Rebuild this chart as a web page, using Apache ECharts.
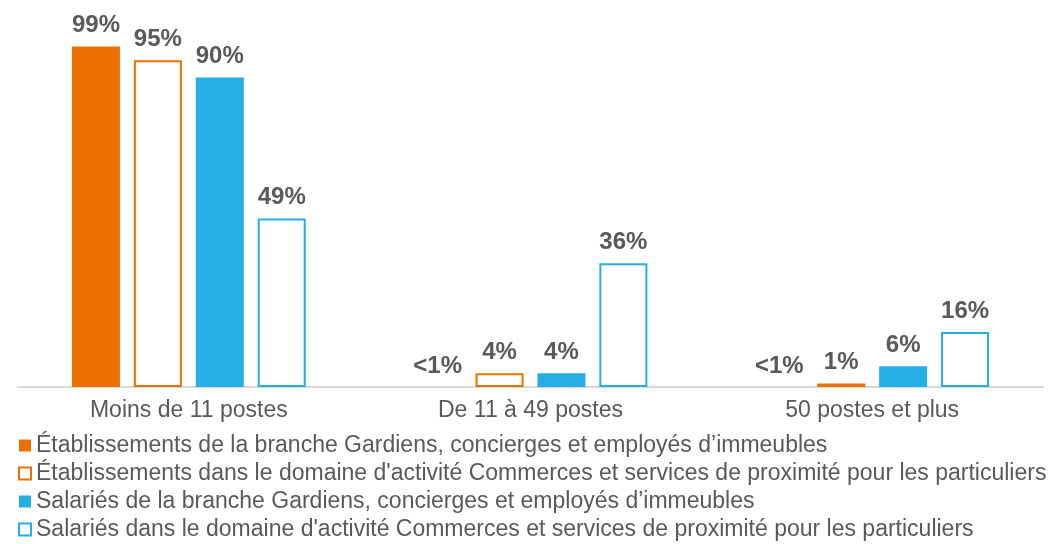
<!DOCTYPE html>
<html>
<head>
<meta charset="utf-8">
<script src="https://cdn.jsdelivr.net/npm/echarts@6/dist/echarts.min.js"></script>
<style>
html,body{margin:0;padding:0;background:#fff;}
#chart{width:1055px;height:544px;}
</style>
</head>
<body>
<div id="chart"></div>
<script>
var categories = ['Moins de 11 postes', 'De 11 à 49 postes', '50 postes et plus'];
var seriesNames = [
  'Établissements de la branche Gardiens, concierges et employés d’immeubles',
  "Établissements dans le domaine d'activité Commerces et services de proximité pour les particuliers",
  'Salariés de la branche Gardiens, concierges et employés d’immeubles',
  "Salariés dans le domaine d'activité Commerces et services de proximité pour les particuliers"
];
var etabGardiens = [99, 0, 0];
var etabCommerces = [95, 4, 1];
var salGardiens = [90, 4, 6];
var salCommerces = [49, 36, 16];
var labelsEtabGardiens = ['99%', '<1%', '<1%'];
var labelsEtabCommerces = ['95%', '4%', '1%'];
var labelsSalGardiens = ['90%', '4%', '6%'];
var labelsSalCommerces = ['49%', '36%', '16%'];

var ORANGE = '#EC7000';
var BLUE = '#25AEE3';
var FONT = 'Liberation Sans, Arial, sans-serif';

function mkSeries(name, data, labels, color, hollow) {
  return {
    name: name,
    type: 'bar',
    data: data,
    barWidth: 48,
    barGap: '29%',
    itemStyle: hollow ? { color: '#ffffff', borderColor: color, borderWidth: 2 } : { color: color },
    label: {
      show: true,
      position: 'top',
      distance: 9,
      color: '#595959',
      fontWeight: 'bold',
      fontSize: 24,
      fontFamily: FONT,
      formatter: function (p) { return labels[p.dataIndex]; }
    }
  };
}

var chart = echarts.init(document.getElementById('chart'));
chart.setOption({
  animation: false,
  backgroundColor: '#ffffff',
  grid: { left: 18, right: 12, top: 43, bottom: 157, containLabel: false },
  xAxis: {
    type: 'category',
    data: categories,
    axisLine: { lineStyle: { color: '#D9D9D9', width: 2 } },
    axisTick: { show: false },
    axisLabel: {
      color: '#595959',
      fontSize: 23,
      margin: 12,
      fontFamily: FONT
    }
  },
  yAxis: {
    type: 'value',
    min: 0,
    max: 100,
    show: false,
    splitLine: { show: false }
  },
  legend: {
    orient: 'vertical',
    left: 18,
    top: 434,
    padding: 0,
    itemWidth: 12,
    itemHeight: 12,
    itemGap: 5,
    icon: 'rect',
    textStyle: {
      color: '#595959',
      fontSize: 23,
      lineHeight: 23,
      fontFamily: FONT
    },
    data: seriesNames
  },
  series: [
    mkSeries(seriesNames[0], etabGardiens, labelsEtabGardiens, ORANGE, false),
    mkSeries(seriesNames[1], etabCommerces, labelsEtabCommerces, ORANGE, true),
    mkSeries(seriesNames[2], salGardiens, labelsSalGardiens, BLUE, false),
    mkSeries(seriesNames[3], salCommerces, labelsSalCommerces, BLUE, true)
  ]
});
</script>
</body>
</html>
